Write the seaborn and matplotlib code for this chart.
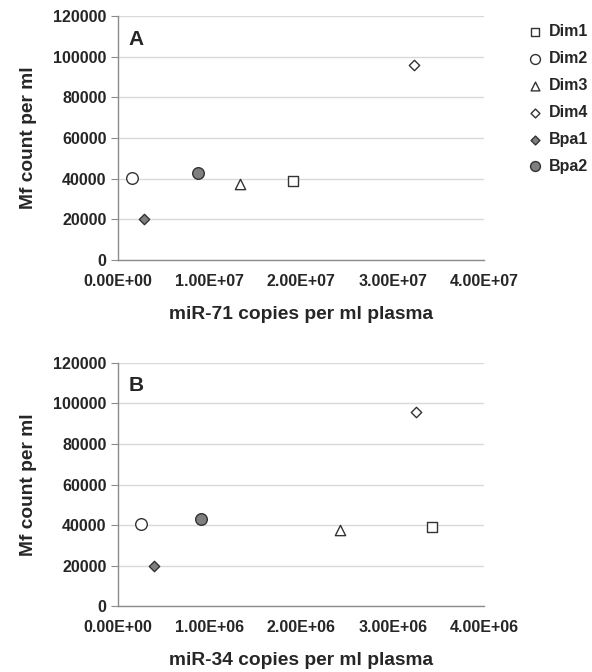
import matplotlib.pyplot as plt
import numpy as np
import pandas as pd
import seaborn as sns

samples = ["Dim1", "Dim2", "Dim3", "Dim4", "Bpa1", "Bpa2"]
mf_count = [39000, 40500, 37500, 96000, 20000, 43000]
mir71 = [1.91e7, 1.5e6, 1.33e7, 3.23e7, 2.85e6, 8.7e6]
mir34 = [3.43e6, 2.5e5, 2.42e6, 3.26e6, 3.9e5, 9.1e5]

markers = {"Dim1": "s", "Dim2": "o", "Dim3": "^", "Dim4": "D", "Bpa1": "D", "Bpa2": "o"}
faces = {"Dim1": "white", "Dim2": "white", "Dim3": "white", "Dim4": "white",
         "Bpa1": "#7f7f7f", "Bpa2": "#7f7f7f"}
sizes = {"Dim1": 55, "Dim2": 70, "Dim3": 55, "Dim4": 28, "Bpa1": 28, "Bpa2": 70}

df = pd.DataFrame({"sample": samples, "mf": mf_count, "mir71": mir71, "mir34": mir34})

sns.set_style("white")
plt.rcParams['font.family'] = ['Liberation Sans', 'DejaVu Sans']
plt.rcParams['font.weight'] = 'bold'

fig = plt.figure(figsize=(5.92, 6.72), dpi=100)
ax1 = fig.add_axes([0.199, 0.613, 0.619, 0.363])
ax2 = fig.add_axes([0.199, 0.098, 0.619, 0.362])

panels = [(ax1, "mir71", "A", 4e7, "miR-71 copies per ml plasma"),
          (ax2, "mir34", "B", 4e6, "miR-34 copies per ml plasma")]

for ax, col, letter, xmax, xlabel in panels:
    for s in samples:
        sub = df[df["sample"] == s]
        sns.scatterplot(data=sub, x=col, y="mf", marker=markers[s], s=sizes[s],
                        color=faces[s], edgecolor="#333333", linewidth=1.0,
                        ax=ax, label=s, zorder=3)
    ax.set_xlim(0, xmax)
    ax.set_ylim(0, 120000)
    ax.set_yticks(np.arange(0, 120001, 20000))
    xt = np.linspace(0, xmax, 5)
    ax.set_xticks(xt)
    ax.set_xticklabels(["%.2E" % v for v in xt])
    ax.grid(axis="y", color="#d9d9d9", linewidth=1.0)
    ax.set_axisbelow(True)
    for side in ["top", "right"]:
        ax.spines[side].set_visible(False)
    for side in ["left", "bottom"]:
        ax.spines[side].set_color("#8c8c8c")
        ax.spines[side].set_linewidth(1.0)
    ax.tick_params(axis="x", direction="out", length=5, color="#8c8c8c",
                   labelsize=11.5, pad=5)
    ax.tick_params(axis="y", direction="out", length=5, color="#8c8c8c",
                   labelsize=11.5, pad=3, left=True)
    ax.set_xlabel(xlabel, fontsize=13.8, fontweight="bold", labelpad=12)
    ax.set_ylabel("Mf count per ml", fontsize=13.8, fontweight="bold", labelpad=12)
    ax.text(0.03, 0.905, letter, transform=ax.transAxes, fontsize=15,
            fontweight="bold", va="center", ha="left")
    ax.get_legend().remove()

handles, labels = ax1.get_legend_handles_labels()
fig.legend(handles, labels, loc="upper left", bbox_to_anchor=(0.865, 0.985),
           frameon=False, fontsize=11.5, handletextpad=0.3, labelspacing=0.74,
           handlelength=1.1, markerscale=0.85)

fig.savefig("out.png", dpi=100)
